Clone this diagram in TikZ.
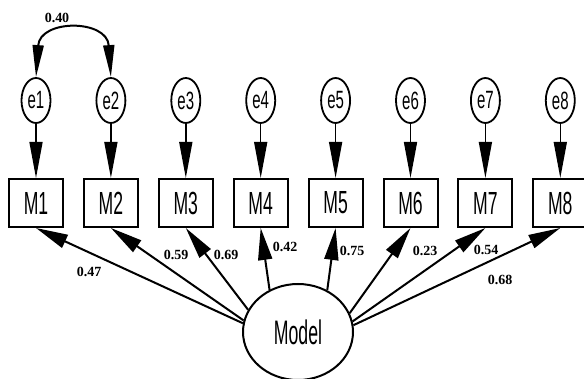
\documentclass[tikz,border=0pt]{standalone}
\usepackage{fontspec}
\setmainfont{Liberation Sans}
\newfontfamily\numfont{Liberation Serif}
\usepackage{graphicx}
\usetikzlibrary{arrows.meta,shapes.geometric}
\newcommand{\nar}[2]{\scalebox{#1}[1]{#2}}
\begin{document}
\begin{tikzpicture}[x=1pt,y=-1pt,
  obs/.style={draw, line width=2pt, minimum width=54pt, minimum height=48pt, inner sep=0pt, font=\fontsize{32}{32}\selectfont},
  err/.style={draw, ellipse, line width=1.8pt, minimum width=29pt, minimum height=45pt, inner sep=0pt, font=\fontsize{25}{25}\selectfont},
  lat/.style={draw, ellipse, line width=2pt, minimum width=110pt, minimum height=96pt, inner sep=0pt, font=\fontsize{34}{34}\selectfont},
  num/.style={font=\numfont\bfseries\fontsize{14}{14}\selectfont, inner sep=0pt},
  errarr/.style={line width=1.5pt, -{Triangle[length=36pt,width=13pt]}},
  loadarr/.style={line width=2pt, -{Triangle[length=32pt,width=14pt]}},
  covarr/.style={line width=2pt, {Triangle[length=32pt,width=11pt]}-{Triangle[length=32pt,width=11pt]}}
]
\clip (0,0) rectangle (584,379);
\fill[white] (0,0) rectangle (584,379);
\foreach \i in {1,...,8}{
  \pgfmathsetmacro{\xx}{36+74.9*(\i-1)}
  \node[obs] (M\i) at (\xx,203) {\nar{0.55}{M\i}};
  \node[err] (e\i) at (\xx,100.5) {\nar{0.6}{e\i}};
  \draw[errarr] (e\i.south) -- (M\i.north);
}
\node[lat] (Model) at (298,332) {\nar{0.52}{Model}};
\draw[covarr] (e1.north) .. controls (40,19) and (107,19) .. (e2.north);
\draw[loadarr] (Model.171) -- (M1.south);
\draw[loadarr] (Model.168) -- (M2.south);
\draw[loadarr] (Model.156) -- (M3.south);
\draw[loadarr] (Model.124) -- (M4.south);
\draw[loadarr] (Model.55) -- (M5.south);
\draw[loadarr] (Model.20) -- (M6.south);
\draw[loadarr] (Model.11) -- (M7.south);
\draw[loadarr] (Model.7) -- (M8.south);
\node[num] (l0) at (57,18) {0.40};
\node[num] (l1) at (89,272) {0.47};
\node[num] (l2) at (176,255) {0.59};
\node[num] (l3) at (226,255) {0.69};
\node[num] (l4) at (285,247) {0.42};
\node[num] (l5) at (352,251) {0.75};
\node[num] (l6) at (425,251) {0.23};
\node[num] (l7) at (486,250) {0.54};
\node[num] (l8) at (500,280) {0.68};
\end{tikzpicture}
\end{document}
